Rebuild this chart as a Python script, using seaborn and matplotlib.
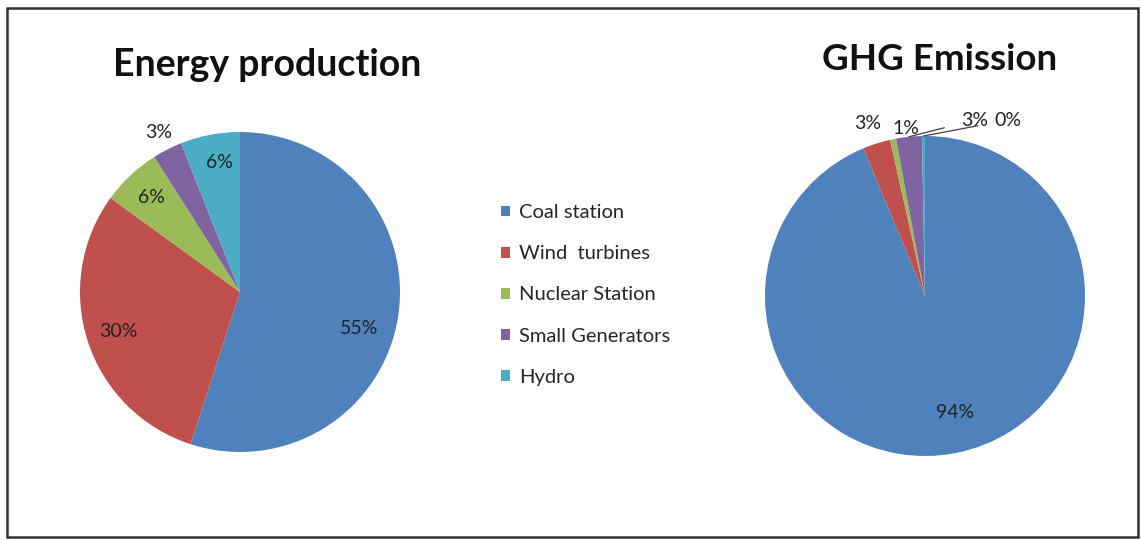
import numpy as np
import matplotlib
matplotlib.use("Agg")
import matplotlib.pyplot as plt
from matplotlib.patches import Rectangle
import seaborn as sns

# Data
sources = ["Coal station", "Wind  turbines", "Nuclear Station", "Small Generators", "Hydro"]
energy_share = [55, 30, 6, 3, 6]
ghg_share = [93.7, 2.8, 0.6, 2.6, 0.3]
titles = ["Energy production", "GHG Emission"]

sns.set_theme(style="white")
plt.rcParams["font.family"] = ["Lato", "DejaVu Sans"]
palette = sns.color_palette(["#4F81BD", "#C0504D", "#9BBB59", "#8064A2", "#4BACC6"])

W, H = 1141, 540
fig = plt.figure(figsize=(W / 100, H / 100), dpi=100)
fig.patch.set_facecolor("white")


def pie_axes(cx, cy, r, box=400):
    ax = fig.add_axes([(cx - box / 2) / W, 1 - (cy + box / 2) / H, box / W, box / H])
    lim = box / 2 / r
    ax.set_xlim(-lim, lim)
    ax.set_ylim(-lim, lim)
    ax.set_aspect("equal")
    ax.axis("off")
    return ax


def mid_angle(w):
    return np.deg2rad((w.theta1 + w.theta2) / 2)


label_color = "#222222"
label_size = 14

# Left pie: energy production
ax1 = pie_axes(240, 292, 157)
wedges1, _ = ax1.pie(energy_share, colors=palette, startangle=90, counterclock=False,
                     radius=1, wedgeprops=dict(linewidth=0))
radii1 = [0.78, 0.80, 0.81, 1.12, 0.82]
shift1 = [-8, 0, 0, 0, -2]
for w, v, r, s in zip(wedges1, energy_share, radii1, shift1):
    a = mid_angle(w) + np.deg2rad(s)
    ax1.text(r * np.cos(a), r * np.sin(a), f"{v:.0f}%", ha="center", va="center",
             fontsize=label_size, color=label_color, clip_on=False)

# Right pie: GHG emission
ax2 = pie_axes(925, 296, 160)
wedges2, _ = ax2.pie(ghg_share, colors=palette, startangle=90, counterclock=False,
                     radius=1, wedgeprops=dict(linewidth=0))
ang0 = mid_angle(wedges2[0]) + np.deg2rad(3)
ax2.text(0.75 * np.cos(ang0), 0.75 * np.sin(ang0), f"{ghg_share[0]:.0f}%",
         ha="center", va="center", fontsize=label_size, color=label_color)
# small slices: direct labels for wind and nuclear, leader lines for the rest
direct = {1: (-0.36, 1.08), 2: (-0.12, 1.05)}
for i, (x, y) in direct.items():
    ax2.text(x, y, f"{ghg_share[i]:.0f}%", ha="center", va="center",
             fontsize=label_size, color=label_color, clip_on=False)
leader = {3: (0.31, 1.10), 4: (0.52, 1.10)}
for i, (x, y) in leader.items():
    a = mid_angle(wedges2[i])
    ax2.annotate(f"{ghg_share[i]:.0f}%", xy=(np.cos(a), np.sin(a)), xytext=(x, y),
                 ha="center", va="center", fontsize=label_size, color=label_color,
                 arrowprops=dict(arrowstyle="-", color="#404040", lw=0.9,
                                 shrinkA=10, shrinkB=0),
                 annotation_clip=False)

# Titles
fig.text(267 / W, 1 - 65 / H, titles[0], ha="center", va="center",
         fontsize=27, fontweight="bold", color="#111111")
fig.text(940 / W, 1 - 60 / H, titles[1], ha="center", va="center",
         fontsize=26.5, fontweight="bold", color="#111111")

# Legend
fig.legend(wedges1, sources, loc="upper left", bbox_to_anchor=(483 / W, 1 - 186 / H),
           frameon=False, fontsize=14.5, handlelength=0.45, handleheight=0.45,
           handletextpad=0.45, labelspacing=1.2, labelcolor="#262626")

# Outer frame
fig.patches.append(Rectangle((7 / W, 3 / H), 1131 / W, 529 / H, transform=fig.transFigure,
                             fill=False, edgecolor="#333333", linewidth=1.8))

fig.savefig("out.png", dpi=100, facecolor="white")
